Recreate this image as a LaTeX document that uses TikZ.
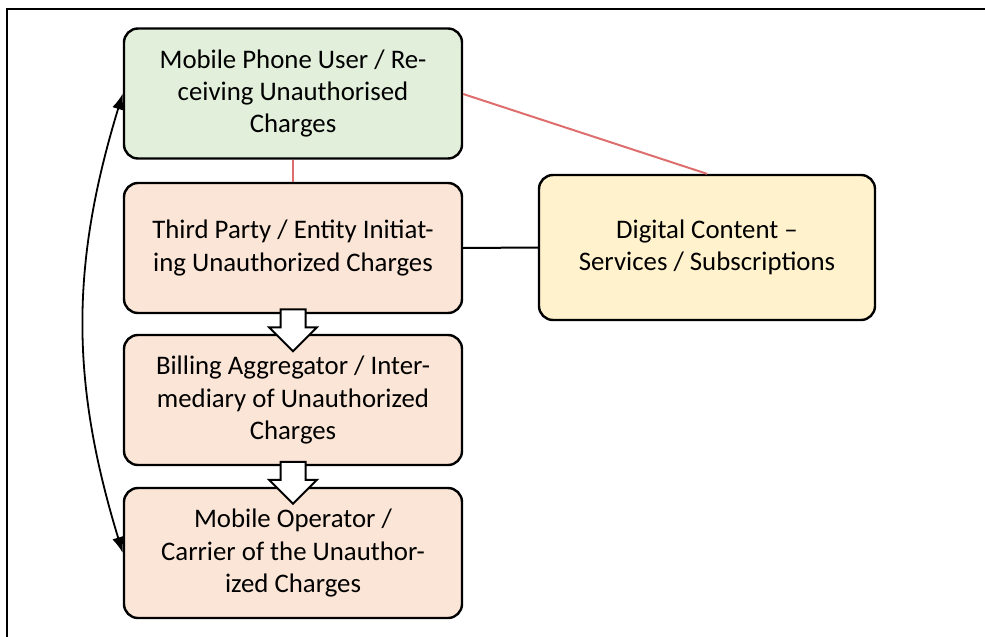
\documentclass[tikz,border=0pt]{standalone}
\usepackage{fontspec}
\setmainfont{Carlito}
\usetikzlibrary{arrows.meta,shapes.arrows,calc}

\definecolor{usergreen}{RGB}{226,239,218}
\definecolor{partypeach}{RGB}{251,229,214}
\definecolor{contentyellow}{RGB}{255,242,204}
\definecolor{linkred}{RGB}{222,110,110}

\tikzset{
  box/.style={draw=black, line width=1.2pt, rounded corners=7pt, align=center,
    minimum width=169pt, minimum height=65pt, inner sep=2pt,
    font=\fontsize{13.4}{16.2}\selectfont},
  redlink/.style={draw=linkred, line width=1pt},
  fatarrow/.style={single arrow, draw=black, fill=white, line width=1pt,
    minimum height=21pt, minimum width=23pt, single arrow head extend=5.75pt,
    inner xsep=0pt, inner ysep=5.75pt, rotate=-90}
}

\begin{document}
\begin{tikzpicture}[x=0.5pt,y=-0.5pt]
\useasboundingbox (0,0) rectangle (985,637);
\draw[line width=1pt] (985,9) -- (7,9) -- (7,637);

\node[box, fill=usergreen] (user) at (293,93.5)
  {Mobile Phone User / Re-\\ceiving Unauthorised\\Charges};

\node[box, fill=partypeach] (third) at (293,248)
  {Third Party / Entity Initiat-\\ing Unauthorized Charges};

\node[box, fill=partypeach] (bill) at (293,400)
  {Billing Aggregator / Inter-\\mediary of Unauthorized\\Charges};

\node[box, fill=partypeach] (oper) at (293,553)
  {Mobile Operator /\\Carrier of the Unauthor-\\ized Charges};

\node[box, fill=contentyellow, minimum width=168pt, minimum height=72.5pt] (content) at (707,247.5)
  {Digital Content --\\Services / Subscriptions};

% links to the content box
\draw[redlink] (user.south) -- (third.north);
\draw[redlink] (user.east |- 0,94) -- (content.north);
\draw[line width=1pt] (third.east) -- (content.west);

% flow of the charges
\node[fatarrow] (flow1) at ($(third.south)!0.5!(bill.north)$) {};
\node[fatarrow] (flow2) at ($(bill.south)!0.5!(oper.north)$) {};

\draw[{Latex[length=8pt,width=6pt]}-{Latex[length=8pt,width=6pt]}, line width=0.9pt]
  (user.west) to[out=-107,in=107] (oper.west);
\end{tikzpicture}
\end{document}
